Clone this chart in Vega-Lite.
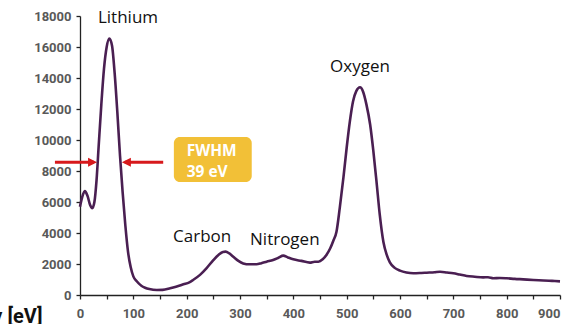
{
  "$schema": "https://vega.github.io/schema/vega-lite/v6.json",
  "width": 480,
  "height": 279,
  "autosize": {"type": "none"},
  "padding": {"left": 80, "top": 16, "right": 4, "bottom": 29},
  "background": "white",
  "config": {
    "view": {"stroke": null},
    "axis": {
      "grid": false,
      "domainColor": "#222222",
      "domainWidth": 1.3,
      "tickColor": "#222222",
      "tickWidth": 1.3,
      "tickSize": 4,
      "labelFont": "Roboto",
      "labelFontWeight": "bold",
      "labelFontSize": 13,
      "labelColor": "#595959",
      "labelOverlap": false
    }
  },
  "datasets": {
    "spectrum": [
      {"energy": 0, "counts": 5700}, {"energy": 4, "counts": 6300}, {"energy": 9, "counts": 6700},
      {"energy": 14, "counts": 6400}, {"energy": 19, "counts": 5800}, {"energy": 23, "counts": 5600},
      {"energy": 27, "counts": 6000}, {"energy": 31, "counts": 7400}, {"energy": 35, "counts": 9600},
      {"energy": 40, "counts": 12300}, {"energy": 45, "counts": 14600}, {"energy": 50, "counts": 16000},
      {"energy": 55, "counts": 16550}, {"energy": 60, "counts": 16100}, {"energy": 65, "counts": 14300},
      {"energy": 70, "counts": 11800}, {"energy": 75, "counts": 9000}, {"energy": 80, "counts": 6600},
      {"energy": 85, "counts": 4500}, {"energy": 90, "counts": 2800}, {"energy": 95, "counts": 1800},
      {"energy": 100, "counts": 1200}, {"energy": 106, "counts": 900}, {"energy": 115, "counts": 600},
      {"energy": 122, "counts": 470}, {"energy": 130, "counts": 380}, {"energy": 144, "counts": 320},
      {"energy": 155, "counts": 330}, {"energy": 169, "counts": 430}, {"energy": 180, "counts": 530},
      {"energy": 194, "counts": 690}, {"energy": 205, "counts": 820}, {"energy": 212, "counts": 970},
      {"energy": 225, "counts": 1300}, {"energy": 237, "counts": 1720}, {"energy": 250, "counts": 2250},
      {"energy": 260, "counts": 2600}, {"energy": 268, "counts": 2780}, {"energy": 273, "counts": 2800},
      {"energy": 280, "counts": 2680}, {"energy": 288, "counts": 2450}, {"energy": 297, "counts": 2200},
      {"energy": 306, "counts": 2040}, {"energy": 318, "counts": 1980}, {"energy": 331, "counts": 1980},
      {"energy": 340, "counts": 2050}, {"energy": 350, "counts": 2150}, {"energy": 362, "counts": 2260},
      {"energy": 372, "counts": 2400}, {"energy": 381, "counts": 2540}, {"energy": 390, "counts": 2420},
      {"energy": 400, "counts": 2300}, {"energy": 415, "counts": 2200}, {"energy": 431, "counts": 2090},
      {"energy": 440, "counts": 2150}, {"energy": 447, "counts": 2150}, {"energy": 455, "counts": 2300},
      {"energy": 462, "counts": 2580}, {"energy": 469, "counts": 3000}, {"energy": 475, "counts": 3500},
      {"energy": 481, "counts": 4100}, {"energy": 487, "counts": 5600}, {"energy": 494, "counts": 7600},
      {"energy": 500, "counts": 9500}, {"energy": 506, "counts": 11200}, {"energy": 512, "counts": 12500},
      {"energy": 518, "counts": 13150}, {"energy": 525, "counts": 13400}, {"energy": 531, "counts": 13100},
      {"energy": 537, "counts": 12300}, {"energy": 544, "counts": 11000}, {"energy": 550, "counts": 9300},
      {"energy": 556, "counts": 7300}, {"energy": 562, "counts": 5200}, {"energy": 569, "counts": 3400},
      {"energy": 575, "counts": 2600}, {"energy": 581, "counts": 2100}, {"energy": 590, "counts": 1750},
      {"energy": 600, "counts": 1570}, {"energy": 612, "counts": 1450}, {"energy": 625, "counts": 1400},
      {"energy": 640, "counts": 1420}, {"energy": 650, "counts": 1440}, {"energy": 665, "counts": 1470},
      {"energy": 675, "counts": 1500}, {"energy": 688, "counts": 1450}, {"energy": 700, "counts": 1400},
      {"energy": 712, "counts": 1320}, {"energy": 725, "counts": 1230}, {"energy": 740, "counts": 1180},
      {"energy": 756, "counts": 1140}, {"energy": 765, "counts": 1150}, {"energy": 775, "counts": 1080},
      {"energy": 787, "counts": 1100}, {"energy": 800, "counts": 1080}, {"energy": 815, "counts": 1040},
      {"energy": 831, "counts": 1010}, {"energy": 850, "counts": 970}, {"energy": 869, "counts": 940},
      {"energy": 885, "counts": 910}, {"energy": 900, "counts": 880}
    ],
    "peaks": [
      {"label": "Lithium", "energy": 90, "counts": 17850},
      {"label": "Oxygen", "energy": 525, "counts": 14700},
      {"label": "Carbon", "energy": 229, "counts": 3750},
      {"label": "Nitrogen", "energy": 384, "counts": 3550}
    ],
    "fwhmBox": [{"energy": 176, "energyEnd": 322, "counts": 10190, "countsEnd": 7290}],
    "fwhmText": [
      {"text": "FWHM", "energy": 200, "counts": 8970},
      {"text": "39 eV", "energy": 200, "counts": 7610}
    ],
    "arrowShafts": [
      {"energy": -47, "energyEnd": 26, "counts": 8560},
      {"energy": 84, "energyEnd": 156, "counts": 8560}
    ],
    "arrowHeads": [
      {"energy": 32, "counts": 8560, "side": "left"},
      {"energy": 78.5, "counts": 8560, "side": "right"}
    ]
  },
  "encoding": {
    "x": {
      "field": "energy",
      "type": "quantitative",
      "scale": {"domain": [0, 900], "nice": false},
      "axis": {
        "values": [0, 50, 100, 150, 200, 250, 300, 350, 400, 450, 500, 550, 600, 650, 700, 750, 800, 850, 900],
        "labelExpr": "datum.value % 100 === 0 ? datum.label : ''",
        "labelAlign": {"condition": {"test": "datum.value === 900", "value": "right"}, "value": "center"},
        "format": "d",
        "labelPadding": 8,
        "labelFlush": false,
        "labelOverlap": false,
        "title": "Energy [eV]",
        "titleFont": "Roboto",
        "titleFontWeight": "bold",
        "titleFontSize": 20,
        "titleColor": "#111111",
        "titleAlign": "right",
        "titleAnchor": null,
        "titleBaseline": "alphabetic",
        "titleX": -38,
        "titleY": 27
      }
    },
    "y": {
      "field": "counts",
      "type": "quantitative",
      "scale": {"domain": [0, 18000], "nice": false},
      "axis": {
        "values": [0, 2000, 4000, 6000, 8000, 10000, 12000, 14000, 16000, 18000],
        "format": "d",
        "labelPadding": 5,
        "labelOverlap": false,
        "labelFlush": false,
        "title": null
      }
    }
  },
  "layer": [
    {
      "data": {"name": "spectrum"},
      "mark": {"type": "line", "color": "#4a1f52", "strokeWidth": 2.6, "interpolate": "monotone"}
    },
    {
      "data": {"name": "peaks"},
      "mark": {"type": "text", "font": "Open Sans", "fontSize": 17, "color": "#111111", "align": "center", "baseline": "middle"},
      "encoding": {"text": {"field": "label"}}
    },
    {
      "data": {"name": "fwhmBox"},
      "mark": {"type": "rect", "color": "#f2c037", "cornerRadius": 6},
      "encoding": {"x2": {"field": "energyEnd"}, "y2": {"field": "countsEnd"}}
    },
    {
      "data": {"name": "fwhmText"},
      "mark": {"type": "text", "font": "Open Sans", "fontWeight": "bold", "fontSize": 15.5, "color": "white", "align": "left", "baseline": "alphabetic"},
      "encoding": {"text": {"field": "text"}}
    },
    {
      "data": {"name": "arrowShafts"},
      "mark": {"type": "rule", "color": "#d7191c", "strokeWidth": 3},
      "encoding": {"x2": {"field": "energyEnd"}}
    },
    {
      "data": {"name": "arrowHeads"},
      "mark": {"type": "point", "filled": true, "color": "#d7191c", "opacity": 1, "size": 324},
      "encoding": {
        "shape": {
          "field": "side",
          "type": "nominal",
          "scale": {"domain": ["left", "right"], "range": ["M0,0L-1,-0.5L-1,0.5Z", "M0,0L1,-0.5L1,0.5Z"]},
          "legend": null
        }
      }
    }
  ]
}
